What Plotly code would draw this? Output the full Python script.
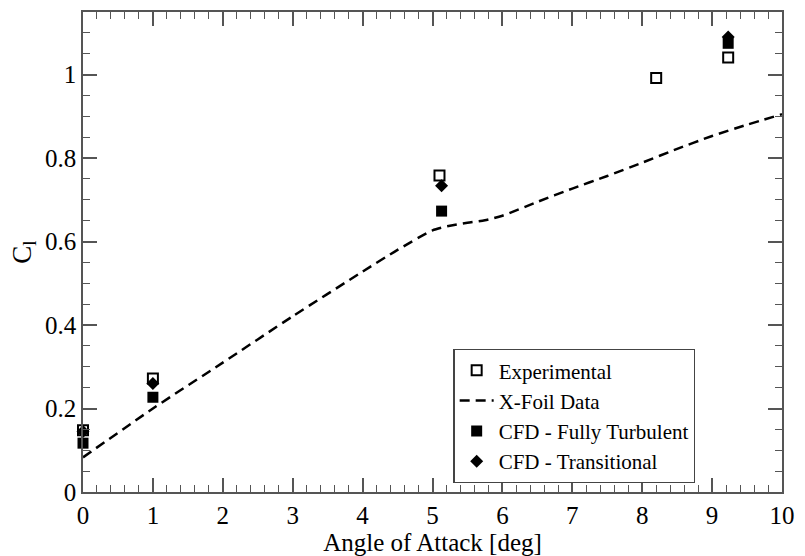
import plotly.graph_objects as go

# Experimental data (open squares)
exp_x = [0, 1, 5.1, 8.2, 9.23]
exp_y = [0.148, 0.272, 0.758, 0.992, 1.041]

# X-Foil data (dashed line)
xfoil_x = [0, 1, 2, 3, 4, 4.5, 5, 5.25, 5.5, 5.75, 6, 6.5, 7, 7.5, 8, 8.5, 9, 9.5, 10]
xfoil_y = [0.083, 0.2, 0.31, 0.421, 0.528, 0.58, 0.627, 0.638, 0.645, 0.651, 0.662,
           0.695, 0.727, 0.757, 0.789, 0.822, 0.853, 0.880, 0.905]

# CFD - Fully Turbulent (filled squares)
turb_x = [0, 1, 5.13, 9.23]
turb_y = [0.117, 0.227, 0.673, 1.075]

# CFD - Transitional (filled diamonds)
trans_x = [0, 1, 5.13, 9.23]
trans_y = [0.145, 0.260, 0.734, 1.09]

FONT = "Liberation Serif"

fig = go.Figure()
fig.add_trace(go.Scatter(
    x=exp_x, y=exp_y, mode="markers", name="Experimental",
    marker=dict(symbol="square-open", size=10, color="black", line=dict(width=2, color="black")),
    cliponaxis=False))
fig.add_trace(go.Scatter(
    x=xfoil_x, y=xfoil_y, mode="lines", name="X-Foil Data",
    line=dict(color="black", width=2.5, dash="10px,6px", shape="spline", smoothing=0.6)))
fig.add_trace(go.Scatter(
    x=turb_x, y=turb_y, mode="markers", name="CFD - Fully Turbulent",
    marker=dict(symbol="square", size=11, color="black"),
    cliponaxis=False))
fig.add_trace(go.Scatter(
    x=trans_x, y=trans_y, mode="markers", name="CFD - Transitional",
    marker=dict(symbol="diamond", size=10, color="black"),
    cliponaxis=False))

axis_common = dict(
    showgrid=False, zeroline=False, showline=True, linecolor="#555555", linewidth=1.5,
    mirror="ticks", ticks="inside", ticklen=14, tickwidth=1.5, tickcolor="#555555",
    tickfont=dict(family=FONT, size=25, color="black"),
)

fig.update_xaxes(
    range=[0, 10], dtick=1, tick0=0,
    minor=dict(ticks="inside", ticklen=7, dtick=0.2, tickwidth=1.2, tickcolor="#555555"),
    title=dict(text="Angle of Attack [deg]", font=dict(family=FONT, size=25, color="black"), standoff=0),
    **axis_common)
fig.update_yaxes(
    range=[0, 1.15], dtick=0.2, tick0=0,
    minor=dict(ticks="inside", ticklen=7, dtick=0.05, tickwidth=1.2, tickcolor="#555555"),
    title=dict(text="C<sub>l</sub>", font=dict(family=FONT, size=27, color="black"), standoff=6),
    **axis_common)

fig.update_layout(
    width=805, height=556,
    margin=dict(l=83, r=16, t=10, b=59),
    plot_bgcolor="white", paper_bgcolor="white",
    font=dict(family=FONT, color="black"),
    legend=dict(
        x=0.53, y=0.298, xanchor="left", yanchor="top",
        bgcolor="white", bordercolor="#444444", borderwidth=1.2,
        font=dict(family=FONT, size=21, color="black"),
        itemwidth=34, tracegroupgap=0,
    ),
    showlegend=True,
)

fig.write_html("out.html", config={"displayModeBar": False},
               post_script="document.body.style.margin='0';")
